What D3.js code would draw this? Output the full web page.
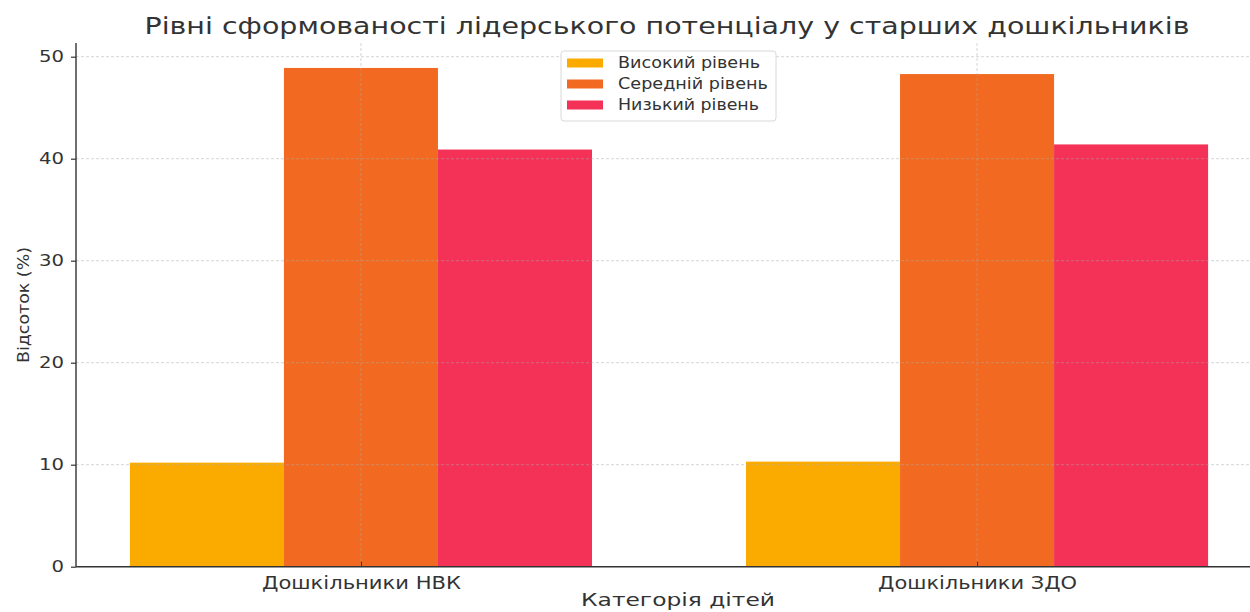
<!DOCTYPE html>
<html>
<head>
<meta charset="utf-8">
<script src="https://cdn.jsdelivr.net/npm/d3@7"></script>
<style>
  html, body { margin: 0; padding: 0; background: #fff; }
  svg text { font-family: "DejaVu Sans", sans-serif; fill: #333; }
</style>
</head>
<body>
<svg id="chart" width="1250" height="612"></svg>
<script>
const categories = ["Дошкільники НВК", "Дошкільники ЗДО"];
const seriesNames = ["Високий рівень", "Середній рівень", "Низький рівень"];
const seriesColors = ["#FBAB00", "#F26A21", "#F43157"];
const highValues = [10.2, 10.3];
const midValues = [48.9, 48.3];
const lowValues = [40.9, 41.4];
const yTicks = [0, 10, 20, 30, 40, 50];
const titleText = "Рівні сформованості лідерського потенціалу у старших дошкільників";
const xLabel = "Категорія дітей";
const yLabel = "Відсоток (%)";

const series = [highValues, midValues, lowValues];
const barW = 0.25;

const svg = d3.select("#chart");
const mLeft = 76, mRight = 1262, mTop = 43, mBottom = 566.7;

const maxV = d3.max(series.flat());
const y = d3.scaleLinear().domain([0, maxV * 1.05]).range([mBottom, mTop]);
const xMin = -1.5 * barW, xMax = (categories.length - 1) + 1.5 * barW;
const pad = (xMax - xMin) * 0.05;
const x = d3.scaleLinear().domain([xMin - pad, xMax + pad]).range([mLeft, mRight]);

// bars
series.forEach((vals, j) => {
  svg.append("g").selectAll("rect").data(vals).join("rect")
    .attr("x", (d, i) => x(i + (j - 1) * barW - barW / 2))
    .attr("width", (d, i) => x(i + (j - 1) * barW + barW / 2) - x(i + (j - 1) * barW - barW / 2))
    .attr("y", d => y(d))
    .attr("height", d => y(0) - y(d))
    .attr("fill", seriesColors[j]);
});

// grid (above bars)
const grid = svg.append("g");
grid.selectAll("line.h").data(yTicks.filter(t => t > 0)).join("line")
  .attr("x1", mLeft).attr("x2", 1250)
  .attr("y1", d => y(d)).attr("y2", d => y(d))
  .attr("stroke", "rgba(170,170,170,0.55)").attr("stroke-width", 0.9)
  .attr("stroke-dasharray", "3,2");
grid.selectAll("line.v").data(categories.map((c, i) => i)).join("line")
  .attr("x1", d => x(d)).attr("x2", d => x(d))
  .attr("y1", mTop).attr("y2", mBottom)
  .attr("stroke", "rgba(170,170,170,0.55)").attr("stroke-width", 0.9)
  .attr("stroke-dasharray", "3,2");

// y axis
const yAxis = d3.axisLeft(y).tickValues(yTicks).tickSize(5).tickPadding(7).tickFormat(d3.format("d"));
const gy = svg.append("g").attr("transform", `translate(${mLeft},0)`).call(yAxis);
gy.select(".domain").attr("stroke", "#333").attr("stroke-width", 1.4).attr("d", `M0,${mTop}V${mBottom}`);
gy.selectAll(".tick line").attr("stroke", "#333").attr("stroke-width", 1.2);
gy.selectAll(".tick text").attr("font-size", 16).attr("fill", "#333")
  .attr("textLength", 25).attr("lengthAdjust", "spacingAndGlyphs")
  .each(function(d){ if (d < 10) d3.select(this).attr("textLength", 12.5); });

// x axis
const xAxis = d3.axisBottom(x).tickValues(categories.map((c, i) => i))
  .tickFormat(i => categories[i]).tickSize(-5).tickPadding(10);
const gx = svg.append("g").attr("transform", `translate(0,${mBottom})`).call(xAxis);
gx.select(".domain").attr("stroke", "#333").attr("stroke-width", 1.4).attr("d", `M${mLeft},0H1250`);
gx.selectAll(".tick line").attr("stroke", "#333").attr("stroke-width", 1);
gx.selectAll(".tick text").attr("font-size", 17).attr("fill", "#333")
  .attr("textLength", 199).attr("lengthAdjust", "spacingAndGlyphs");

// title
svg.append("text").attr("x", 667).attr("y", 34).attr("text-anchor", "middle")
  .attr("font-size", 23).attr("textLength", 1045).attr("lengthAdjust", "spacingAndGlyphs")
  .text(titleText);

// x label
svg.append("text").attr("x", 678).attr("y", 606).attr("text-anchor", "middle")
  .attr("font-size", 17).attr("textLength", 194).attr("lengthAdjust", "spacingAndGlyphs")
  .text(xLabel);

// y label
svg.append("text").attr("transform", `translate(29,305) rotate(-90)`).attr("text-anchor", "middle")
  .attr("font-size", 16).attr("textLength", 116).attr("lengthAdjust", "spacingAndGlyphs")
  .text(yLabel);

// legend
const legendLens = [142, 150, 141];
const lg = svg.append("g");
lg.append("rect").attr("x", 561).attr("y", 51).attr("width", 215).attr("height", 70)
  .attr("rx", 3).attr("fill", "rgba(255,255,255,0.85)").attr("stroke", "#d8d8d8").attr("stroke-width", 1);
seriesNames.forEach((name, j) => {
  const cy = 63 + j * 21;
  lg.append("rect").attr("x", 567).attr("y", cy - 4.5).attr("width", 36).attr("height", 9)
    .attr("fill", seriesColors[j]);
  lg.append("text").attr("x", 618).attr("y", cy + 5).attr("font-size", 15)
    .attr("textLength", legendLens[j]).attr("lengthAdjust", "spacingAndGlyphs")
    .attr("fill", "#333").text(name);
});
</script>
</body>
</html>
